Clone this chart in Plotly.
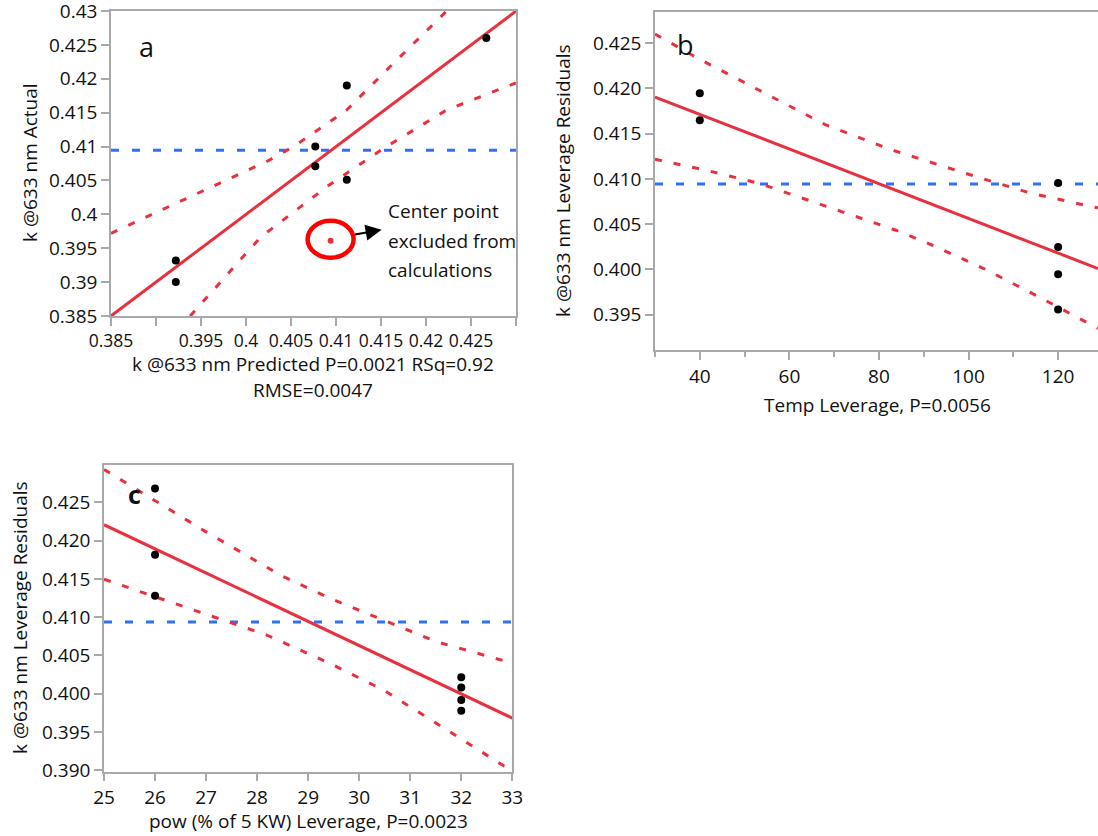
import plotly.graph_objects as go

FONT = "Open Sans"
RED = "#E8303F"
BLUE = "#3070F5"
GREY = "#A9A9A9"

# ---------------- Panel a: Actual by Predicted ----------------
a_pred = [0.3922, 0.3922, 0.4077, 0.4077, 0.4112, 0.4112, 0.4267]
a_actual = [0.3932, 0.3900, 0.4100, 0.4071, 0.4190, 0.4051, 0.4260]
a_excl_pred = [0.4094]
a_excl_actual = [0.3961]
a_fit_x = [0.385, 0.430]
a_fit_y = [0.385, 0.430]
a_upper_x = [0.385, 0.3945, 0.4023, 0.4053, 0.4112, 0.4164, 0.4223]
a_upper_y = [0.3972, 0.4030, 0.4078, 0.4100, 0.4154, 0.4223, 0.4300]
a_lower_x = [0.3938, 0.4016, 0.4090, 0.4156, 0.4223, 0.4300]
a_lower_y = [0.3850, 0.3966, 0.4041, 0.4100, 0.4154, 0.4194]
a_mean = 0.40945
a_xrange = [0.3849999, 0.4300001]
a_yrange = [0.3849999, 0.4300001]
a_xticks = [0.385, 0.39, 0.395, 0.4, 0.405, 0.41, 0.415, 0.42, 0.425, 0.43]
a_xticktext = ["0.385", "", "0.395", "0.4", "0.405", "0.41", "0.415", "0.42", "0.425", ""]
a_yticks = [0.385, 0.39, 0.395, 0.4, 0.405, 0.41, 0.415, 0.42, 0.425, 0.43]
a_yticktext = ["0.385", "0.39", "0.395", "0.4", "0.405", "0.41", "0.415", "0.42", "0.425", "0.43"]

# ---------------- Panel b: Temp leverage ----------------
b_temp = [40, 40, 120, 120, 120, 120]
b_resid = [0.41945, 0.41647, 0.40955, 0.40248, 0.39947, 0.39557]
b_fit_x = [30, 128.9]
b_fit_y = [0.41904, 0.40010]
b_upper_x = [30, 40, 68, 83.1, 100.7, 113.7, 127.8, 128.9]
b_upper_y = [0.4260, 0.4232, 0.4160, 0.41316, 0.41040, 0.40845, 0.40690, 0.40680]
b_lower_x = [30, 41.5, 53.4, 67, 83.8, 91.1, 103.4, 115.7, 128.9]
b_lower_y = [0.41216, 0.41095, 0.40948, 0.40720, 0.40433, 0.40286, 0.40010, 0.39697, 0.39348]
b_mean = 0.40944
b_xrange = [30, 128.9]
b_yrange = [0.3911, 0.4284]
b_xticks = [40, 60, 80, 100, 120]
b_yticks = [0.395, 0.400, 0.405, 0.410, 0.415, 0.420, 0.425]

# ---------------- Panel c: pow leverage ----------------
c_pow = [26, 26, 26, 32, 32, 32, 32]
c_resid = [0.42683, 0.41817, 0.41281, 0.40216, 0.40080, 0.39916, 0.39777]
c_fit_x = [25, 33]
c_fit_y = [0.42209, 0.39681]
c_upper_x = [25, 26.05, 27.0, 28.18, 28.45, 29.43, 30.48, 31.52, 33]
c_upper_y = [0.42932, 0.42508, 0.42116, 0.41658, 0.41551, 0.41246, 0.40963, 0.40678, 0.40400]
c_lower_x = [25, 26, 27, 28.18, 29.43, 30.48, 31.52, 33]
c_lower_y = [0.41496, 0.41268, 0.41030, 0.40769, 0.40395, 0.40046, 0.39610, 0.38985]
c_mean = 0.40938
c_xrange = [25, 33.00001]
c_yrange = [0.3898, 0.4299]
c_xticks = [25, 26, 27, 28, 29, 30, 31, 32, 33]
c_yticks = [0.390, 0.395, 0.400, 0.405, 0.410, 0.415, 0.420, 0.425]

# figure fills the whole 1098x836 page (body margin removed below)
OFF = 0
W, H = 1098, 836
FS = 19

fig = go.Figure()


def add_panel(xa, ya, px, py, fx, fy, ux, uy, lx, ly, mean, xr):
    fig.add_trace(go.Scatter(x=xr, y=[mean, mean], mode="lines", xaxis=xa, yaxis=ya,
                             line=dict(color=BLUE, width=3, dash="8px,13px"), showlegend=False))
    fig.add_trace(go.Scatter(x=ux, y=uy, mode="lines", xaxis=xa, yaxis=ya,
                             line=dict(color=RED, width=3, dash="7px,12px"), showlegend=False))
    fig.add_trace(go.Scatter(x=lx, y=ly, mode="lines", xaxis=xa, yaxis=ya,
                             line=dict(color=RED, width=3, dash="7px,12px"), showlegend=False))
    fig.add_trace(go.Scatter(x=fx, y=fy, mode="lines", xaxis=xa, yaxis=ya,
                             line=dict(color=RED, width=3), showlegend=False))
    fig.add_trace(go.Scatter(x=px, y=py, mode="markers", xaxis=xa, yaxis=ya,
                             marker=dict(color="black", size=8), showlegend=False, cliponaxis=False))


add_panel("x", "y", a_pred, a_actual, a_fit_x, a_fit_y, a_upper_x, a_upper_y,
          a_lower_x, a_lower_y, a_mean, a_xrange)
fig.add_trace(go.Scatter(x=a_excl_pred, y=a_excl_actual, mode="markers", xaxis="x", yaxis="y",
                         marker=dict(color=RED, size=6), showlegend=False))
add_panel("x2", "y2", b_temp, b_resid, b_fit_x, b_fit_y, b_upper_x, b_upper_y,
          b_lower_x, b_lower_y, b_mean, b_xrange)
add_panel("x3", "y3", c_pow, c_resid, c_fit_x, c_fit_y, c_upper_x, c_upper_y,
          c_lower_x, c_lower_y, c_mean, c_xrange)

tickfont = dict(family=FONT, size=FS, color="#111111")


def axis(domain, rng, anchor, mirror=True, **kw):
    d = dict(domain=domain, range=rng, anchor=anchor, showline=True, linecolor=GREY,
             linewidth=1.5, mirror=mirror, ticks="outside", ticklen=8, tickwidth=1.5,
             tickcolor=GREY, showgrid=False, zeroline=False, tickfont=tickfont,
             automargin=False, tickangle=0, ticklabeloverflow="allow")
    d.update(kw)
    return d


def px_x(a, b):
    return [(a - OFF) / W, min((b - OFF) / W, 1.0)]


def px_y(top, bottom):
    return [1 - (bottom - OFF) / H, 1 - (top - OFF) / H]


fig.update_layout(
    width=W, height=H, margin=dict(l=0, r=0, t=0, b=0, autoexpand=False),
    plot_bgcolor="white", paper_bgcolor="white",
    font=dict(family=FONT, color="#111111"),
    xaxis=axis(px_x(111, 516), a_xrange, "y", tickmode="array", tickvals=a_xticks, ticktext=a_xticktext,
               tickfont=dict(family=FONT, size=17.5, color="#111111")),
    yaxis=axis(px_y(11, 316), a_yrange, "x", tickmode="array", tickvals=a_yticks, ticktext=a_yticktext),
    xaxis2=axis(px_x(655, 1098), b_xrange, "y2", tickmode="array", tickvals=b_xticks,
                ticktext=[str(v) for v in b_xticks],
                minor=dict(dtick=10, tick0=30, ticklen=5, tickwidth=1.5, tickcolor=GREY, ticks="outside")),
    yaxis2=axis(px_y(12.3, 350), b_yrange, "x2", mirror=False, tickmode="array", tickvals=b_yticks,
                ticktext=[f"{v:.3f}" for v in b_yticks]),
    xaxis3=axis(px_x(104, 512.3), c_xrange, "y3", tickmode="array", tickvals=c_xticks,
                ticktext=[str(v) for v in c_xticks]),
    yaxis3=axis(px_y(465, 771.7), c_yrange, "x3", tickmode="array", tickvals=c_yticks,
                ticktext=[f"{v:.3f}" for v in c_yticks]),
)

# excluded-point ring
fig.add_shape(type="circle", xref="x", yref="y", xsizemode="pixel", ysizemode="pixel",
              xanchor=a_excl_pred[0], yanchor=a_excl_actual[0], x0=-23, x1=23, y0=-17, y1=20,
              line=dict(color="#FF0000", width=4.5))
fig.add_annotation(x=a_excl_pred[0], y=a_excl_actual[0], xref="x", yref="y", xshift=51, yshift=11,
                   ax=-28, ay=5, text="", showarrow=True, arrowhead=2, arrowsize=1.6,
                   arrowwidth=2, arrowcolor="black")
for txt, ys in [("Center point", 30), ("excluded from", 0), ("calculations", -29)]:
    fig.add_annotation(x=a_excl_pred[0], y=a_excl_actual[0], xref="x", yref="y", xshift=55,
                       yshift=ys, text=txt, showarrow=False, xanchor="left", yanchor="middle",
                       font=dict(family=FONT, size=FS, color="#111111"))


# titles and panel letters (positions in page pixels)
def ann(x, y, text, angle=0, size=FS, **kw):
    fig.add_annotation(x=(x - OFF) / W, y=1 - (y - OFF) / H, xref="paper", yref="paper", text=text,
                       showarrow=False, textangle=angle, xanchor="center", yanchor="middle",
                       font=dict(family=FONT, size=size, color="#111111"), **kw)


ann(30, 163, "k @633 nm Actual", angle=-90)
ann(313, 364, "k @633 nm Predicted P=0.0021 RSq=0.92")
ann(313, 390, "RMSE=0.0047")
ann(563, 181, "k @633 nm Leverage Residuals", angle=-90)
ann(877, 405, "Temp Leverage, P=0.0056")
ann(20, 618, "k @633 nm Leverage Residuals", angle=-90)
ann(308, 821, "pow (% of 5 KW) Leverage, P=0.0023")
ann(146, 46, "a", size=27)
ann(685, 45, "b", size=27)
ann(134, 494, "<b>c</b>", size=25)

fig.write_html("out.html", config={"displayModeBar": False},
               post_script="document.body.style.margin='0px';document.body.style.overflow='hidden';")
